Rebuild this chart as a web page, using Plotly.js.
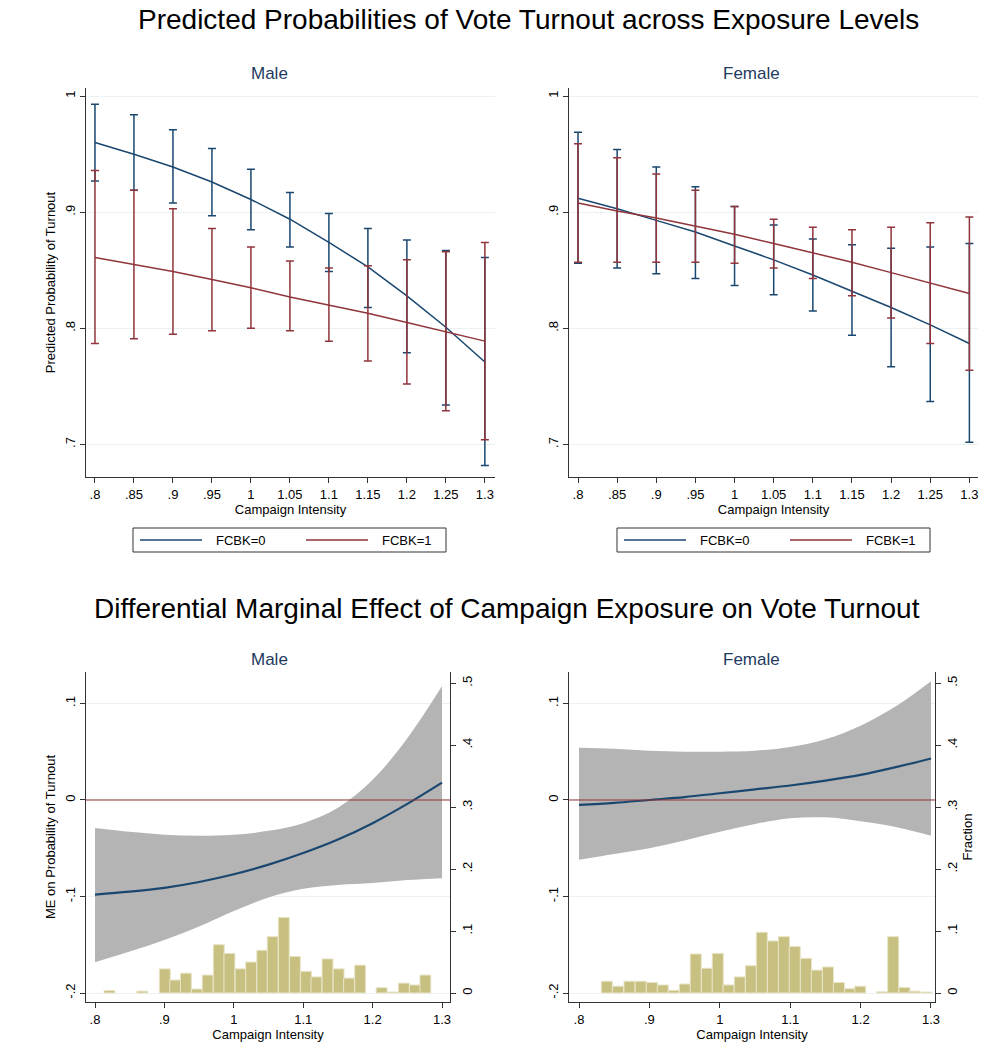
<!DOCTYPE html>
<html>
<head>
<meta charset="utf-8">
<script src="https://cdn.plot.ly/plotly-3.0.1.min.js"></script>
<style>body{margin:0;background:#fff}#chart{width:1000px;height:1048px}</style>
</head>
<body>
<div id="chart"></div>
<script>
// campaign intensity grid for the predicted probabilities
var intensity = [0.8, 0.85, 0.9, 0.95, 1, 1.05, 1.1, 1.15, 1.2, 1.25, 1.3];
var intensityLabels = [".8", ".85", ".9", ".95", "1", "1.05", "1.1", "1.15", "1.2", "1.25", "1.3"];

// Male, predicted probability
var maleF0 = [.960, .950, .939, .926, .911, .894, .874, .853, .828, .801, .771];
var maleF0Hi = [.993, .984, .971, .955, .937, .917, .899, .886, .876, .867, .861];
var maleF0Lo = [.927, .919, .908, .897, .885, .870, .849, .818, .779, .734, .682];
var maleF1 = [.861, .855, .849, .842, .835, .827, .820, .813, .805, .797, .789];
var maleF1Hi = [.936, .919, .903, .886, .870, .858, .852, .854, .859, .866, .874];
var maleF1Lo = [.787, .791, .795, .798, .800, .798, .789, .772, .752, .729, .704];

// Female, predicted probability
var femF0 = [.912, .903, .893, .883, .871, .859, .846, .832, .818, .803, .787];
var femF0Hi = [.969, .954, .939, .922, .905, .889, .877, .872, .869, .870, .873];
var femF0Lo = [.856, .852, .847, .843, .837, .829, .815, .794, .767, .737, .702];
var femF1 = [.908, .901, .895, .888, .881, .873, .865, .857, .848, .839, .830];
var femF1Hi = [.959, .947, .933, .919, .905, .894, .887, .885, .887, .891, .896];
var femF1Lo = [.857, .857, .857, .857, .856, .852, .843, .828, .809, .787, .764];

// marginal effects
var meX = [0.8, 0.85, 0.9, 0.95, 1, 1.05, 1.1, 1.15, 1.2, 1.25, 1.3];
var maleME = [-0.098, -0.095, -0.091, -0.085, -0.077, -0.067, -0.055, -0.041, -0.024, -0.004, 0.018];
var maleMEHi = [-0.029, -0.033, -0.036, -0.037, -0.036, -0.032, -0.024, -0.008, 0.021, 0.064, 0.118];
var maleMELo = [-0.168, -0.157, -0.145, -0.131, -0.115, -0.101, -0.092, -0.088, -0.086, -0.083, -0.081];
var femME = [-0.005, -0.003, 0.000, 0.003, 0.007, 0.011, 0.015, 0.020, 0.026, 0.034, 0.043];
var femMEHi = [0.054, 0.053, 0.051, 0.050, 0.050, 0.051, 0.055, 0.063, 0.077, 0.097, 0.123];
var femMELo = [-0.062, -0.056, -0.050, -0.042, -0.033, -0.025, -0.019, -0.018, -0.022, -0.028, -0.037];

// histograms of campaign intensity (fraction)
var maleBins = [0.8208, 0.8681, 0.9005, 0.9155, 0.9309, 0.9469, 0.9623, 0.9783, 0.9937, 1.0097, 1.025, 1.041, 1.056,
  1.072, 1.088, 1.104, 1.119, 1.135, 1.151, 1.166, 1.182, 1.213, 1.229, 1.245, 1.261, 1.276];
var maleFrac = [0.004, 0.003, 0.039, 0.021, 0.032, 0.0065, 0.029, 0.078, 0.064, 0.039, 0.050, 0.069, 0.091,
  0.122, 0.059, 0.035, 0.026, 0.055, 0.039, 0.024, 0.045, 0.0086, 0.0016, 0.016, 0.013, 0.029];
var femBins = [0.8395, 0.8554, 0.8718, 0.8877, 0.9036, 0.9190, 0.9345, 0.9504, 0.9658, 0.9817, 0.9971, 1.0125, 1.0284,
  1.0443, 1.0597, 1.0757, 1.0911, 1.1065, 1.1224, 1.1378, 1.1537, 1.1692, 1.1851, 1.1995, 1.2308, 1.2463, 1.2622, 1.2766, 1.2935];
var femFrac = [0.019, 0.011, 0.019, 0.019, 0.017, 0.013, 0.0043, 0.0146, 0.063, 0.040, 0.064, 0.013, 0.026,
  0.044, 0.098, 0.084, 0.091, 0.075, 0.056, 0.037, 0.042, 0.017, 0.007, 0.011, 0.002, 0.091, 0.009, 0.003, 0.0016];

var legendNames = ["FCBK=0", "FCBK=1"];

var blue = "#1a476f", red = "#90353b", khaki = "#c8c080", band = "#b4b4b4";
var font = "Liberation Sans, Arial, sans-serif";

function diff(a, b) { return a.map((v, i) => v - b[i]); }

function probTrace(y, hi, lo, color, name, xa, ya) {
  return {
    x: intensity, y: y, type: "scatter", mode: "lines", name: name,
    xaxis: xa, yaxis: ya, showlegend: false,
    line: {color: color, width: 1.5},
    error_y: {type: "data", symmetric: false, array: diff(hi, y), arrayminus: diff(y, lo),
      color: color, thickness: 1.5, width: 4}
  };
}

function bandTraces(x, hi, lo, mid, xa, ya) {
  return [
    {x: x, y: lo, type: "scatter", mode: "lines", line: {width: 0, shape: "spline"}, xaxis: xa, yaxis: ya, showlegend: false, hoverinfo: "skip"},
    {x: x, y: hi, type: "scatter", mode: "lines", fill: "tonexty", fillcolor: band, line: {width: 0, shape: "spline"},
      xaxis: xa, yaxis: ya, showlegend: false},
    {x: x, y: mid, type: "scatter", mode: "lines", line: {color: blue, width: 2.2, shape: "spline"}, xaxis: xa, yaxis: ya, showlegend: false}
  ];
}

function histTrace(x, y, xa, ya) {
  return {x: x, y: y, type: "bar", width: 0.0157, xaxis: xa, yaxis: ya, showlegend: false,
    marker: {color: khaki, line: {color: "#e8e4c8", width: 1}}};
}

function zeroLine(xa, ya) {
  return {x: [0.7, 1.4], y: [0, 0], type: "scatter", mode: "lines", line: {color: red, width: 1.2},
    xaxis: xa, yaxis: ya, showlegend: false};
}

var data = [
  probTrace(maleF0, maleF0Hi, maleF0Lo, blue, legendNames[0], "x", "y"),
  probTrace(maleF1, maleF1Hi, maleF1Lo, red, legendNames[1], "x", "y"),
  probTrace(femF0, femF0Hi, femF0Lo, blue, legendNames[0], "x2", "y2"),
  probTrace(femF1, femF1Hi, femF1Lo, red, legendNames[1], "x2", "y2")
];
data = data.concat(bandTraces(meX, maleMEHi, maleMELo, maleME, "x3", "y3"));
data.push(zeroLine("x3", "y3"));
data.push(histTrace(maleBins, maleFrac, "x3", "y5"));
data = data.concat(bandTraces(meX, femMEHi, femMELo, femME, "x4", "y4"));
data.push(zeroLine("x4", "y4"));
data.push(histTrace(femBins, femFrac, "x4", "y6"));

var tickFont = {family: font, size: 13, color: "#000"};
function xAxis(dom, range, vals, labels, anchor) {
  return {domain: dom, range: range, anchor: anchor, tickvals: vals, ticktext: labels,
    ticks: "outside", ticklen: 5, tickcolor: "#333", showline: true, linecolor: "#333", linewidth: 1,
    showgrid: false, zeroline: false, tickfont: tickFont,
    title: {text: "Campaign Intensity", font: {family: font, size: 13, color: "#000"}, standoff: 2}};
}
function yAxis(dom, range, vals, labels, anchor, title) {
  return {domain: dom, range: range, anchor: anchor, tickvals: vals, ticktext: labels, tickangle: -90,
    ticks: "outside", ticklen: 5, tickcolor: "#333", showline: true, linecolor: "#333", linewidth: 1,
    showgrid: true, gridcolor: "#eaf2f3", zeroline: false, tickfont: tickFont,
    title: {text: title, font: {family: font, size: 13, color: "#000"}, standoff: 4}};
}

var topDom = [1 - 477 / 1048, 1 - 88 / 1048];
var botDom = [1 - 1002 / 1048, 1 - 672 / 1048];
var pVals = [0.7, 0.8, 0.9, 1], pLabels = [".7", ".8", ".9", "1"];
var meVals = [-0.2, -0.1, 0, 0.1], meLabels = ["-.2", "-.1", "0", ".1"];
var frVals = [0, 0.1, 0.2, 0.3, 0.4, 0.5], frLabels = ["0", ".1", ".2", ".3", ".4", ".5"];
var meTicks = [0.8, 0.9, 1, 1.1, 1.2, 1.3], meTickLabels = [".8", ".9", "1", "1.1", "1.2", "1.3"];

function fracAxis(overlay, anchor, title) {
  return {overlaying: overlay, anchor: anchor, side: "right", range: [-0.0145, 0.518],
    tickvals: frVals, ticktext: frLabels, tickangle: -90, ticks: "outside", ticklen: 5, tickcolor: "#333",
    showline: true, linecolor: "#333", showgrid: false, zeroline: false, tickfont: tickFont,
    title: {text: title, font: {family: font, size: 13, color: "#000"}, standoff: 4}};
}

function ann(text, x, y, size, color, anchor) {
  return {text: text, x: x, y: 1 - y / 1048, xref: "paper", yref: "paper", showarrow: false,
    xanchor: anchor || "center", yanchor: "middle", font: {family: font, size: size, color: color}};
}

// legend boxes drawn as shapes so their size matches the reference
var shapes = [], annotations = [];
function legendBox(left, right) {
  var yb = 1 - 552 / 1048, yt = 1 - 528 / 1048, ym = 1 - 540 / 1048;
  shapes.push({type: "rect", xref: "paper", yref: "paper", x0: left / 1000, x1: right / 1000, y0: yb, y1: yt,
    line: {color: "#333", width: 1}});
  var colors = [blue, red], offs = [7, 173];
  colors.forEach((c, i) => {
    var x0 = left + offs[i];
    shapes.push({type: "line", xref: "paper", yref: "paper", x0: x0 / 1000, x1: (x0 + 62) / 1000, y0: ym, y1: ym,
      line: {color: c, width: 1.5}});
    annotations.push(ann(legendNames[i], (x0 + 101) / 1000, 540, 13, "#000"));
  });
}
legendBox(133, 446);
legendBox(617, 930);

annotations.push(
  ann("Predicted Probabilities of Vote Turnout across Exposure Levels", 0.528, 20, 28, "#000"),
  ann("Male", 0.269, 74, 17, "#1e3a5f"),
  ann("Female", 0.751, 74, 17, "#1e3a5f"),
  ann("Differential Marginal Effect of Campaign Exposure on Vote Turnout", 0.507, 608, 28, "#000"),
  ann("Male", 0.269, 659, 17, "#1e3a5f"),
  ann("Female", 0.751, 659, 17, "#1e3a5f")
);

var layout = {
  width: 1000, height: 1048, margin: {l: 0, r: 0, t: 0, b: 0},
  paper_bgcolor: "#fff", plot_bgcolor: "#fff", barmode: "overlay", showlegend: false,
  font: {family: font},
  xaxis: xAxis([0.086, 0.495], [0.7885, 1.313], intensity, intensityLabels, "y"),
  yaxis: yAxis(topDom, [0.672, 1.007], pVals, pLabels, "x", "Predicted Probability of Turnout"),
  xaxis2: xAxis([0.569, 0.978], [0.7885, 1.311], intensity, intensityLabels, "y2"),
  yaxis2: yAxis(topDom, [0.672, 1.007], pVals, pLabels, "x2", ""),
  xaxis3: xAxis([0.086, 0.450], [0.787, 1.3115], meTicks, meTickLabels, "y3"),
  yaxis3: yAxis(botDom, [-0.2093, 0.1326], meVals, meLabels, "x3", "ME on Probability of Turnout"),
  xaxis4: xAxis([0.569, 0.935], [0.7858, 1.3057], meTicks, meTickLabels, "y4"),
  yaxis4: yAxis(botDom, [-0.2093, 0.1326], meVals, meLabels, "x4", ""),
  yaxis5: fracAxis("y3", "x3", ""),
  yaxis6: fracAxis("y4", "x4", "Fraction"),
  shapes: shapes,
  annotations: annotations
};

Plotly.newPlot("chart", data, layout, {displayModeBar: false});
</script>
</body>
</html>
